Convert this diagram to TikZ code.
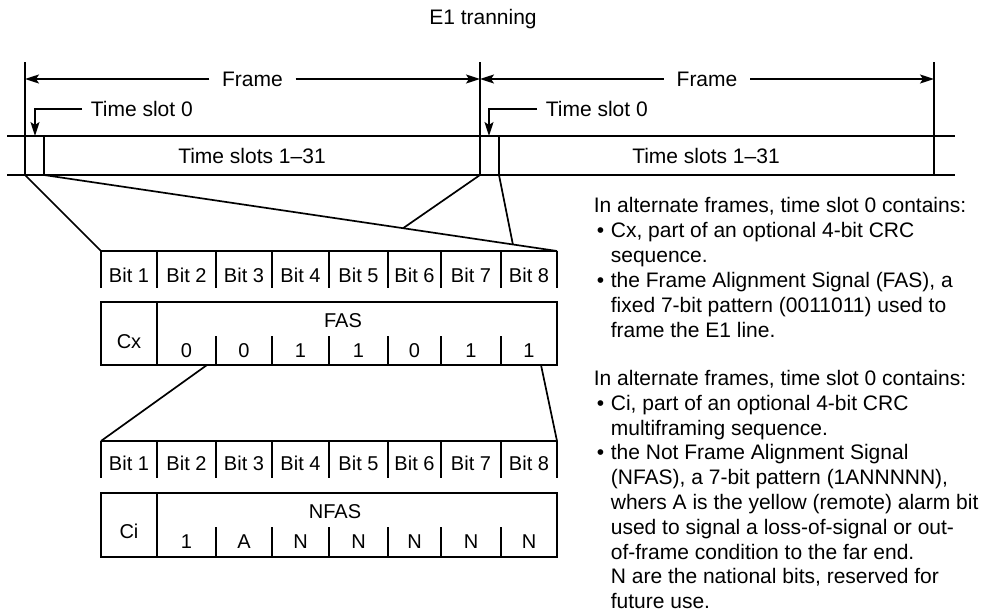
\documentclass[tikz,border=0pt]{standalone}
\usepackage{fontspec}
\setmainfont{Liberation Sans}
\usepackage{tikz}
\usetikzlibrary{arrows.meta, calc}

\newcommand{\itemdot}{\makebox[17pt][l]{\hspace{3pt}\textbullet}}
\newcommand{\itemgap}{\hspace*{17pt}}

\begin{document}
\begin{tikzpicture}[x=1pt, y=-1pt, line width=1.7pt, font=\fontsize{21}{25}\selectfont,
    dim/.style={-{Stealth[length=14pt, width=9pt, inset=3pt]}},
    bitlabel/.style={font=\fontsize{20}{24}\selectfont, anchor=base}]
        \useasboundingbox (0,0) rectangle (983,613);

        % Title
        \node (title) [anchor=base] at (483,24) {E1 tranning};

        % Frame line
        \draw (7,136) -- (955,136);
        \draw (7,175) -- (955,175);
        \draw (25,62) -- (25,175) coordinate (b0);
        \draw (480,62) -- (480,175) coordinate (b1);
        \draw (934,62) -- (934,175) coordinate (b2);
        \draw (44,136) -- (44,175) coordinate (s0);
        \draw (499,136) -- (499,175) coordinate (s1);

        % Frame arrows
        \node (frameA) [inner xsep=12pt] at (252.5,79) {Frame};
        \node (frameB) [inner xsep=12pt] at (707,79) {Frame};
        \draw[dim] (frameA.west) -- (b0 |- frameA.west);
        \draw[dim] (frameA.east) -- (b1 |- frameA.east);
        \draw[dim] (frameB.west) -- (b1 |- frameB.west);
        \draw[dim] (frameB.east) -- (b2 |- frameB.east);

        % Time slot 0 pointers
        \coordinate (tipA) at (35,136);
        \coordinate (tipB) at (489,136);
        \node (tsA) [anchor=west, inner xsep=8pt] at (82,109) {Time slot 0};
        \node (tsB) [anchor=west, inner xsep=8pt] at (537,109) {Time slot 0};
        \draw[dim] (tsA.west) -| (tipA);
        \draw[dim] (tsB.west) -| (tipB);

        % Time slots 1-31
        \node (slotsA) at (252,156) {Time slots 1–31};
        \node (slotsB) at (706,156) {Time slots 1–31};

        % Bit row of the FAS frame
        \draw (101,251) coordinate (rowA) -- (557,251) coordinate (rowAe);
        \foreach \x in {101,157,216,272,329,388,441,501,557}
            \draw (\x,251) -- (\x,288);
        \foreach \i/\x in {1/129,2/186.5,3/244,4/300.5,5/358.5,6/414.5,7/471,8/529}
            \node[bitlabel] (bitA\i) at (\x,282) {Bit \i};

        % FAS box
        \draw (101,302) rectangle (557,365);
        \draw (157,302) -- (157,365);
        \foreach \x in {216,272,329,388,441,501}
            \draw (\x,336) -- (\x,365);
        \node[bitlabel] (cx) at (129,348) {Cx};
        \node[bitlabel] (fas) at (343,327) {FAS};
        \foreach \i/\x/\v in {2/186.5/0,3/244/0,4/300.5/1,5/358.5/1,6/414.5/0,7/471/1,8/529/1}
            \node[bitlabel] (fasbit\i) at (\x,357) {\v};

        % Bit row of the NFAS frame
        \draw (101,441) coordinate (rowB) -- (557,441) coordinate (rowBe);
        \foreach \x in {101,157,216,272,329,388,441,501,557}
            \draw (\x,441) -- (\x,478);
        \foreach \i/\x in {1/129,2/186.5,3/244,4/300.5,5/358.5,6/414.5,7/471,8/529}
            \node[bitlabel] (bitB\i) at (\x,470) {Bit \i};

        % NFAS box
        \draw (101,493) rectangle (557,557);
        \draw (157,493) -- (157,557);
        \foreach \x in {216,272,329,388,441,501}
            \draw (\x,527) -- (\x,557);
        \node[bitlabel] (ci) at (129,538) {Ci};
        \node[bitlabel] (nfas) at (335,518) {NFAS};
        \foreach \i/\x/\v in {2/186.5/1,3/244/A,4/300.5/N,5/358.5/N,6/414.5/N,7/471/N,8/529/N}
            \node[bitlabel] (nfasbit\i) at (\x,548) {\v};

        % Expansion lines
        \coordinate (meetA) at ($(s0)!0.7!(rowAe)$);
        \coordinate (meetB) at ($(s0)!0.914!(rowAe)$);
        \coordinate (fasL) at (207,365);
        \coordinate (fasR) at (541,365);
        \draw (b0) -- (rowA);
        \draw (s0) -- (rowAe);
        \draw (b1) -- (meetA);
        \draw (s1) -- (meetB);
        \draw (fasL) -- (rowB);
        \draw (fasR) -- (rowBe);

        % Notes
        \node (noteA) [anchor=north west, align=left, inner sep=0pt] at (593,196.5) {In alternate frames, time slot 0 contains:\\
            \itemdot Cx, part of an optional 4-bit CRC\\
            \itemgap sequence.\\
            \itemdot the Frame Alignment Signal (FAS), a\\
            \itemgap fixed 7-bit pattern (0011011) used to\\
            \itemgap frame the E1 line.};
        \node (noteB) [anchor=north west, align=left, inner sep=0pt, font=\fontsize{21}{24.8}\selectfont] at (593,369.5) {In alternate frames, time slot 0 contains:\\
            \itemdot Ci, part of an optional 4-bit CRC\\
            \itemgap multiframing sequence.\\
            \itemdot the Not Frame Alignment Signal\\
            \itemgap (NFAS), a 7-bit pattern (1ANNNNN),\\
            \itemgap whers A is the yellow (remote) alarm bit\\
            \itemgap used to signal a loss-of-signal or out-\\
            \itemgap of-frame condition to the far end.\\
            \itemgap N are the national bits, reserved for\\
            \itemgap future use.};
    \end{tikzpicture}
\end{document}
